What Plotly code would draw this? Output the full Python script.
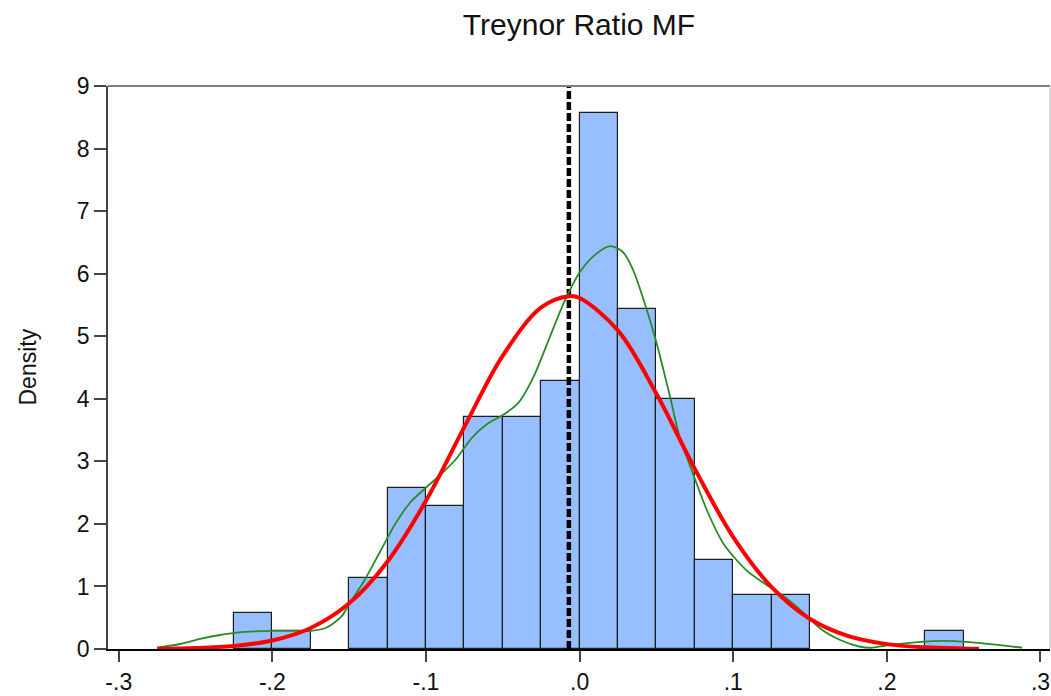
import plotly.graph_objects as go

# Histogram of Treynor ratios (bin width 0.025), density scale
bin_width = 0.025
bin_left = [-0.225, -0.2, -0.15, -0.125, -0.1, -0.075, -0.05, -0.025,
            0.0, 0.025, 0.05, 0.075, 0.1, 0.125, 0.225]
density = [0.571, 0.286, 1.143, 2.571, 2.286, 3.714, 3.714, 4.286,
           8.571, 5.429, 4.0, 1.429, 0.857, 0.857, 0.286]

# Fitted normal density
normal_x = [-0.275, -0.25, -0.225, -0.2, -0.175, -0.15, -0.125, -0.1, -0.075,
            -0.05, -0.025, -0.007, 0.0, 0.025, 0.05, 0.075, 0.1, 0.125, 0.15,
            0.175, 0.2, 0.225, 0.25, 0.26]
normal_y = [0.004, 0.015, 0.049, 0.136, 0.336, 0.73, 1.40, 2.37, 3.55,
            4.69, 5.46, 5.64, 5.61, 5.09, 4.08, 2.88, 1.79, 0.99, 0.479,
            0.205, 0.078, 0.026, 0.008, 0.004]

# Kernel density estimate
kde_x = [-0.275, -0.26, -0.247, -0.235, -0.22, -0.2, -0.185, -0.175, -0.165,
         -0.155, -0.15, -0.14, -0.13, -0.12, -0.11, -0.1, -0.09, -0.08, -0.07,
         -0.06, -0.05, -0.04, -0.03, -0.02, -0.01, 0.0, 0.01, 0.02, 0.028,
         0.035, 0.044, 0.05, 0.059, 0.065, 0.074, 0.083, 0.094, 0.109, 0.122,
         0.132, 0.142, 0.15, 0.157, 0.17, 0.182, 0.19, 0.2, 0.22, 0.237,
         0.254, 0.271, 0.288]
kde_y = [0.02, 0.08, 0.16, 0.22, 0.27, 0.29, 0.29, 0.29, 0.34,
         0.52, 0.72, 1.10, 1.55, 2.00, 2.35, 2.58, 2.80, 3.05, 3.38,
         3.60, 3.74, 3.93, 4.35, 4.95, 5.55, 6.02, 6.30, 6.44, 6.35,
         6.05, 5.40, 4.90, 4.02, 3.40, 2.79, 2.21, 1.67, 1.25, 1.02,
         0.86, 0.66, 0.48, 0.32, 0.14, 0.04, 0.02, 0.06, 0.11, 0.13,
         0.11, 0.07, 0.02]

mean_value = -0.007

x_ticks = [-0.3, -0.2, -0.1, 0.0, 0.1, 0.2, 0.3]
x_tick_text = ["-.3", "-.2", "-.1", ".0", ".1", ".2", ".3"]
y_ticks = list(range(0, 10))

FONT = "Liberation Sans, Arial, sans-serif"

fig = go.Figure()

fig.add_trace(go.Bar(
    x=[b + bin_width / 2 for b in bin_left],
    y=density,
    width=bin_width,
    marker=dict(color="#97bfff", line=dict(color="#1e1e1e", width=1.2)),
    showlegend=False,
    hoverinfo="skip",
))

fig.add_trace(go.Scatter(
    x=[mean_value, mean_value], y=[0, 9],
    mode="lines",
    line=dict(color="black", width=4.5, dash="8px,3px"),
    showlegend=False,
))

fig.add_trace(go.Scatter(
    x=kde_x, y=kde_y, mode="lines",
    line=dict(color="#2a8a2a", width=1.8, shape="spline", smoothing=0.8),
    showlegend=False,
))

fig.add_trace(go.Scatter(
    x=normal_x, y=normal_y, mode="lines",
    line=dict(color="#ff0000", width=4, shape="spline", smoothing=1.0),
    showlegend=False,
))

# top and right frame
fig.add_shape(type="line", xref="paper", yref="paper", x0=0, x1=1, y0=1, y1=1,
              line=dict(color="#808080", width=2))
fig.add_shape(type="line", xref="paper", yref="paper", x0=1, x1=1, y0=0, y1=1,
              line=dict(color="#b0b0b0", width=1))

fig.add_annotation(
    text="Density", textangle=-90, xref="paper", yref="paper",
    x=(27 - 108) / 942, y=0.5, xanchor="center", yanchor="middle",
    showarrow=False, font=dict(family=FONT, size=23, color="#111"),
)

fig.update_layout(
    width=1051, height=696,
    margin=dict(l=108, r=1, t=86, b=44),
    paper_bgcolor="white", plot_bgcolor="white",
    bargap=0,
    title=dict(text="Treynor Ratio MF", x=0.5, xref="paper", xanchor="center",
               y=1 - 24 / 696, yanchor="middle",
               font=dict(family=FONT, size=30, color="#111")),
    font=dict(family=FONT, color="#111"),
    xaxis=dict(range=[-0.307, 0.3062], tickvals=x_ticks, ticktext=x_tick_text,
               ticks="outside", ticklen=11, tickwidth=1.5, tickcolor="#444",
               showgrid=False, zeroline=False, showline=True,
               linecolor="black", linewidth=2,
               tickfont=dict(family=FONT, size=23, color="#111")),
    yaxis=dict(range=[0, 9], tickvals=y_ticks,
               ticks="outside", ticklen=12, tickwidth=1.5, tickcolor="#444",
               showgrid=False, zeroline=False, showline=True,
               linecolor="#444", linewidth=1.5,
               tickfont=dict(family=FONT, size=23, color="#111")),
)

fig.write_html("out.html")
